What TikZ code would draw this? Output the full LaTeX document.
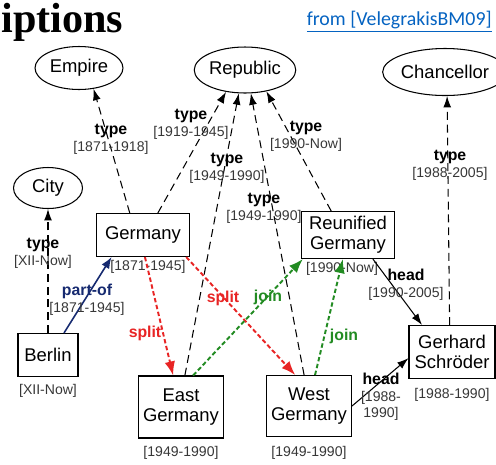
\documentclass[tikz,border=0pt]{standalone}
\usepackage{fontspec}
\setmainfont{Liberation Sans}
\newfontfamily\titlefont{Liberation Serif}
\newfontfamily\linkfont{Carlito}
\usepackage{xcolor}
\usetikzlibrary{shapes.geometric, arrows.meta, positioning}

\definecolor{linkblue}{RGB}{5,99,193}
\definecolor{splitred}{RGB}{232,36,36}
\definecolor{joingreen}{RGB}{34,139,34}
\definecolor{partnavy}{RGB}{22,42,112}
\definecolor{dategray}{RGB}{55,55,55}

\newcommand{\reln}[1]{{\fontsize{9}{9.5}\selectfont\bfseries #1}}
\newcommand{\dates}[1]{\textcolor{dategray}{#1}}

\tikzset{
  % Class and entity styles
  concept/.style={ellipse, draw=black, line width=0.6pt, fill=white, inner sep=0pt, minimum width=#1, minimum height=0.86cm, font=\fontsize{10.5}{12}\selectfont},
  concept/.default={1.8cm},
  entity/.style={rectangle, draw=black, line width=0.6pt, fill=white, inner sep=2pt, align=center, font=\fontsize{10.5}{11.5}\selectfont},
  period/.style={inner sep=0pt, text=dategray, font=\fontsize{8}{9.5}\selectfont},
  lbl/.style={inner sep=0pt, align=center, font=\fontsize{8}{9.5}\selectfont},
  % Connector styles
  typeof/.style={-{Latex[length=6.5pt, width=4.5pt]}, line width=0.6pt, dash pattern=on 4.5pt off 2.8pt},
  headof/.style={-{Latex[length=6.5pt, width=4.5pt]}, line width=0.6pt},
  partof/.style={-{Latex[length=6.5pt, width=5pt]}, line width=0.9pt, partnavy},
  splitarrow/.style={-{Latex[length=8pt, width=6pt]}, line width=1.1pt, dash pattern=on 2.5pt off 1.5pt, splitred},
  joinarrow/.style={-{Latex[length=8pt, width=6pt]}, line width=1.1pt, dash pattern=on 2.5pt off 1.5pt, joingreen},
}

\begin{document}
\begin{tikzpicture}[x=0.02cm, y=-0.02cm]
    \useasboundingbox (0,0) rectangle (496,464);

    % Heading and source
    \node[anchor=base west, inner sep=0pt, font=\titlefont\fontsize{24}{24}\selectfont\bfseries] (title) at (1,32) {iptions};
    \node[anchor=base east, inner sep=0pt, text=linkblue, font=\linkfont\fontsize{11.3}{12}\selectfont] (source) at (492,25) {\underline{from [VelegrakisBM09]}};

    % Classes
    \node[concept=1.76cm] (empire) at (79,68) {Empire};
    \node[concept=1.8cm, minimum height=0.92cm] (republic) at (245,70) {Republic};
    \node[concept=1.98cm, minimum height=0.94cm] (chancellor) at (445,72) {Chancellor};
    \node[concept=1.38cm, minimum height=0.82cm] (city) at (48,188) {City};

    % Entities
    \node[entity, minimum width=1.86cm, minimum height=0.86cm] (germany) at (143,235) {Germany};
    \node[entity, minimum width=1.86cm, minimum height=0.94cm] (reunified) at (348,235) {Reunified\\Germany};
    \node[entity, minimum width=1.2cm, minimum height=0.86cm] (berlin) at (48,355) {Berlin};
    \node[entity, minimum width=1.7cm, minimum height=1.24cm] (east) at (181,407) {East\\Germany};
    \node[entity, minimum width=1.7cm, minimum height=1.22cm] (west) at (309,406) {West\\Germany};
    \node[entity, minimum width=1.72cm, minimum height=1.06cm] (schroeder) at (452,352) {Gerhard\\Schr\"oder};

    % Lifespans
    \node[period, below=1.9pt of germany, xshift=0.1cm] (tgermany) {[1871-1945]};
    \node[period, below=1.4pt of reunified, xshift=-0.12cm] (treunified) {[1990-Now]};
    \node[period, below=4.2pt of berlin] (tberlin) {[XII-Now]};
    \node[period, below=4.2pt of east] (teast) {[1949-1990]};
    \node[period, below=5.3pt of west] (twest) {[1949-1990]};
    \node[period, below=4.8pt of schroeder] (tschroeder) {[1988-1990]};

    % Type edges
    \draw[typeof] (germany.121) -- (empire.305);
    \draw[typeof] (germany.56) -- (republic.229);
    \draw[typeof] (east.83) -- (republic.255);
    \draw[typeof] (west.99) -- (republic.284);
    \draw[typeof] (reunified.125) -- (republic.315);
    \draw[typeof] (schroeder.95) -- (chancellor.275);
    \draw[typeof] (berlin.north) -- (city.south);

    % Other edges
    \draw[partof] (berlin.54) -- (germany.215);
    \draw[splitarrow] (germany.275) -- (east.104);
    \draw[splitarrow] (germany.333) -- (west.114);
    \draw[joinarrow] (east.69) -- (reunified.208);
    \draw[joinarrow] (west.79) -- (reunified.258);
    \draw[headof] (reunified.316) -- (schroeder.138);
    \draw[headof] (west.east) -- (schroeder.188);

    % Edge labels
    \node[lbl] (lempire) at (111,139) {\reln{type}\\\dates{[1871-1918]}};
    \node[lbl] (lrepublic1) at (191,124) {\reln{type}\\\dates{[1919-1945]}};
    \node[lbl] (lrepublic2) at (227,168) {\reln{type}\\\dates{[1949-1990]}};
    \node[lbl] (lrepublic3) at (264,208) {\reln{type}\\\dates{[1949-1990]}};
    \node[lbl] (lrepublic4) at (306,136) {\reln{type}\\\dates{[1990-Now]}};
    \node[lbl] (lchancellor) at (450,165) {\reln{type}\\\dates{[1988-2005]}};
    \node[lbl] (lcity) at (43,253) {\reln{type}\\\dates{[XII-Now]}};
    \node[lbl, text=partnavy] (lpartof) at (87,300) {\reln{part-of}\\\dates{[1871-1945]}};
    \node[lbl, text=splitred] (lsplit1) at (145,333) {\reln{split}};
    \node[lbl, text=splitred] (lsplit2) at (223,298) {\reln{split}};
    \node[lbl, text=joingreen] (ljoin1) at (268,297) {\reln{join}};
    \node[lbl, text=joingreen] (ljoin2) at (344,336) {\reln{join}};
    \node[lbl] (lhead1) at (406,285) {\reln{head}\\\dates{[1990-2005]}};
    \node[lbl] (lhead2) at (381,397) {\reln{head}\\\dates{[1988-}\\\dates{1990]}};
  \end{tikzpicture}
\end{document}
